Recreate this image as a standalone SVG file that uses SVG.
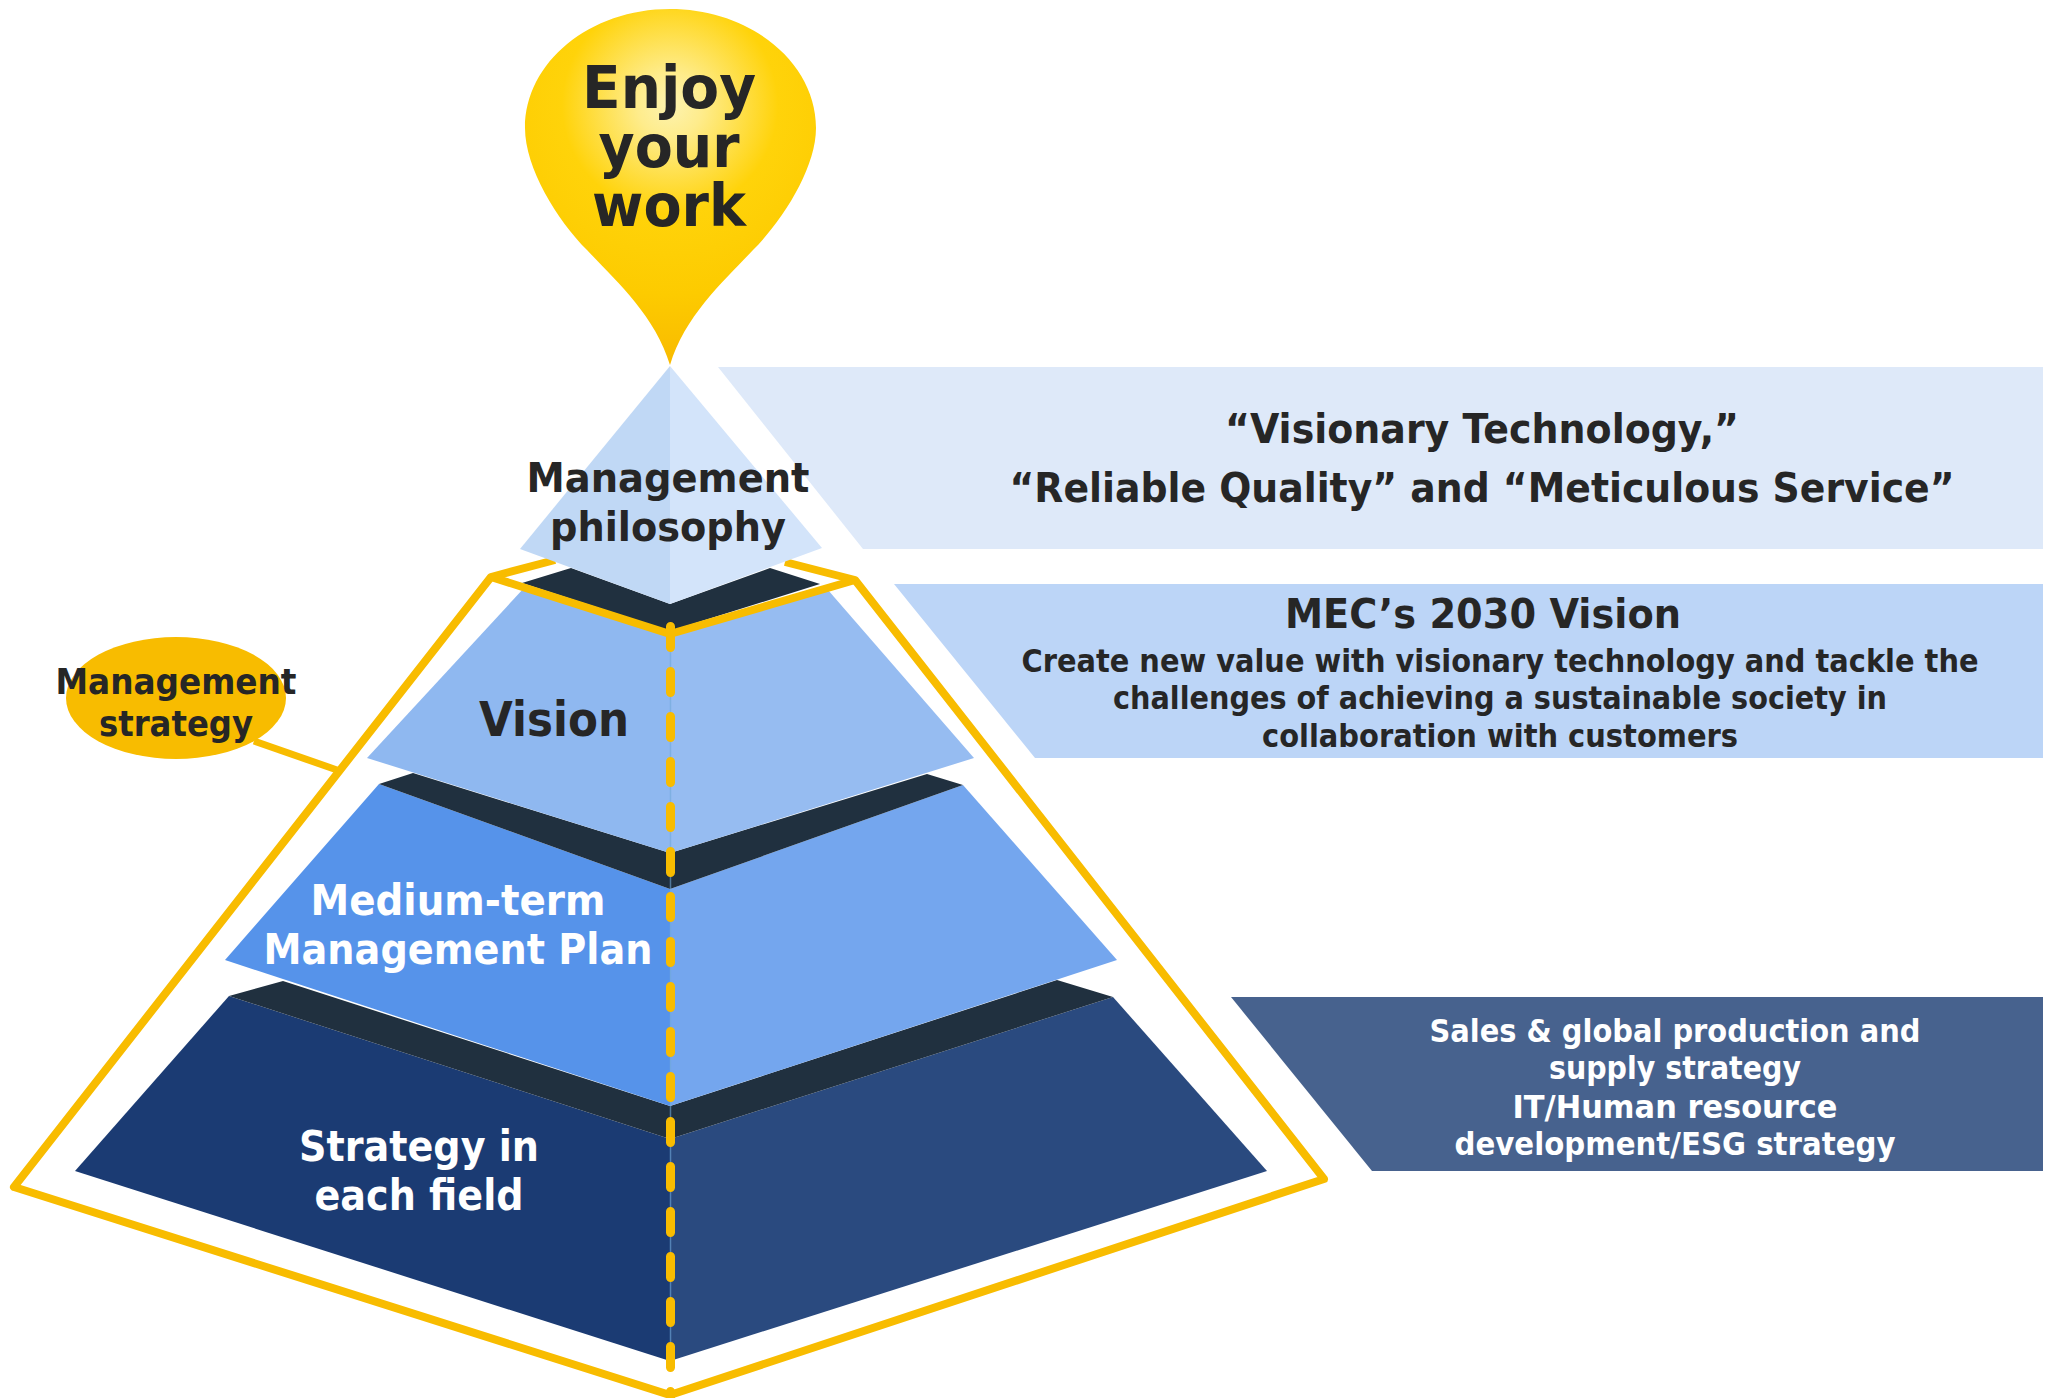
<svg xmlns="http://www.w3.org/2000/svg" width="2047" height="1398" viewBox="0 0 2047 1398">
<style>
text{font-family:"DejaVu Sans","Liberation Sans",sans-serif;font-weight:700;text-anchor:middle;fill:#262626}
.w{fill:#fff}
.y{fill:none;stroke:#f8bc00;stroke-width:8;stroke-linejoin:round}
.dk{fill:#20303f}
</style>
<defs>
<radialGradient id="drop" gradientUnits="userSpaceOnUse" cx="670" cy="105" r="270">
<stop offset="0" stop-color="#fdf3b0"/><stop offset="0.12" stop-color="#feec8c"/><stop offset="0.4" stop-color="#ffd30a"/><stop offset="0.7" stop-color="#fdcb00"/><stop offset="1" stop-color="#f8b800"/>
</radialGradient>
</defs>
<rect width="2047" height="1398" fill="#fff"/>
<g id="bands">
<polygon id="band1" points="718,367 2043,367 2043,549 863,549" fill="#dee9f9"/>
<polygon id="band2" points="894,584 2043,584 2043,758 1035,758" fill="#bcd5f7"/>
<polygon id="band3" points="1231,997 2043,997 2043,1171 1372,1171" fill="#47628e"/>
</g>
<g id="tier-strategy">
<polygon points="75,1171 229,996 670,1139 670,1361" fill="#1b3b73"/>
<polygon points="670,1139 1113,997 1267,1171 670,1361" fill="#2a4a7f"/>
<polygon class="dk" points="229,996 283,981 670,1106 1057,980 1113,997 670,1139"/>
</g>
<g id="tier-medium">
<polygon points="225,960 379,784 670,889 670,1106" fill="#5693ea"/>
<polygon points="670,889 963,785 1117,960 670,1106" fill="#74a6ee"/>
<polygon class="dk" points="379,784 413,773 670,853 927,774 963,785 670,889"/>
</g>
<g id="tier-vision">
<polygon points="367,758 524,588 670,636 670,853" fill="#8fb8f0"/>
<polygon points="670,636 828,590 974,758 670,853" fill="#96bcf1"/>
<polygon class="dk" points="522,583 571,568 670,604 770,568 820,584 670,631"/>
</g>
<g id="connectors">
<polyline class="y" points="555,560 491,577 14,1187 670,1395 1324,1179 855,580 785,562"/>
<polyline class="y" points="491,577 670,634 855,580"/>
<line x1="670.5" y1="636" x2="670.5" y2="1361" stroke="#6fa8d8" stroke-opacity="0.6" stroke-width="1.5"/>
<line x1="670.5" y1="626.5" x2="670.5" y2="1398" stroke="#f8bc00" stroke-width="9" stroke-linecap="round" stroke-dasharray="21 24"/>
<line x1="254" y1="741" x2="337" y2="770" stroke="#f8bc00" stroke-width="7"/>
</g>
<g id="tier-philosophy">
<polygon points="670,366 520,549 670,604" fill="#c0d8f5"/>
<polygon points="670,366 822,548 670,604" fill="#d3e4fa"/>
</g>
<g id="drop-node">
<path d="M670 9C750 9 816 62 816 128C816 168 783 220 753 250C725 280 685 315 670 365C655 315 615 280 587 250C557 220 525 168 525 128C525 62 590 9 670 9Z" fill="url(#drop)"/>
<text x="669" y="108" font-size="59" textLength="174" lengthAdjust="spacingAndGlyphs">Enjoy</text>
<text x="669" y="167" font-size="59" textLength="141" lengthAdjust="spacingAndGlyphs">your</text>
<text x="669" y="226" font-size="59" textLength="154" lengthAdjust="spacingAndGlyphs">work</text>
</g>
<g id="label-strategy">
<ellipse cx="176" cy="698" rx="110" ry="61" fill="#f8bc00"/>
<text x="176" y="694" font-size="35" textLength="241" lengthAdjust="spacingAndGlyphs">Management</text>
<text x="176" y="736" font-size="35" textLength="154" lengthAdjust="spacingAndGlyphs">strategy</text>
</g>
<g id="labels">
<text x="668" y="492" font-size="40" textLength="283" lengthAdjust="spacingAndGlyphs">Management</text>
<text x="668" y="541" font-size="40" textLength="236" lengthAdjust="spacingAndGlyphs">philosophy</text>
<text x="554" y="736" font-size="48" textLength="150" lengthAdjust="spacingAndGlyphs">Vision</text>
<text class="w" x="458" y="915" font-size="42" textLength="295" lengthAdjust="spacingAndGlyphs">Medium-term</text>
<text class="w" x="458" y="964" font-size="42" textLength="389" lengthAdjust="spacingAndGlyphs">Management Plan</text>
<text class="w" x="419" y="1161" font-size="42" textLength="240" lengthAdjust="spacingAndGlyphs">Strategy in</text>
<text class="w" x="419" y="1210" font-size="42" textLength="209" lengthAdjust="spacingAndGlyphs">each field</text>
</g>
<g id="band-text">
<text x="1482" y="443" font-size="40" textLength="514" lengthAdjust="spacingAndGlyphs">“Visionary Technology,”</text>
<text x="1482" y="502" font-size="40" textLength="945" lengthAdjust="spacingAndGlyphs">“Reliable Quality” and “Meticulous Service”</text>
<text x="1483" y="628" font-size="40" textLength="396" lengthAdjust="spacingAndGlyphs">MEC’s 2030 Vision</text>
<text x="1500" y="672" font-size="32" textLength="957" lengthAdjust="spacingAndGlyphs">Create new value with visionary technology and tackle the</text>
<text x="1500" y="709" font-size="32" textLength="774" lengthAdjust="spacingAndGlyphs">challenges of achieving a sustainable society in</text>
<text x="1500" y="747" font-size="32" textLength="476" lengthAdjust="spacingAndGlyphs">collaboration with customers</text>
<text class="w" x="1675" y="1042" font-size="32" textLength="491" lengthAdjust="spacingAndGlyphs">Sales &amp; global production and</text>
<text class="w" x="1675" y="1079" font-size="32" textLength="252" lengthAdjust="spacingAndGlyphs">supply strategy</text>
<text class="w" x="1675" y="1118" font-size="32" textLength="325" lengthAdjust="spacingAndGlyphs">IT/Human resource</text>
<text class="w" x="1675" y="1155" font-size="32" textLength="441" lengthAdjust="spacingAndGlyphs">development/ESG strategy</text>
</g>
</svg>
